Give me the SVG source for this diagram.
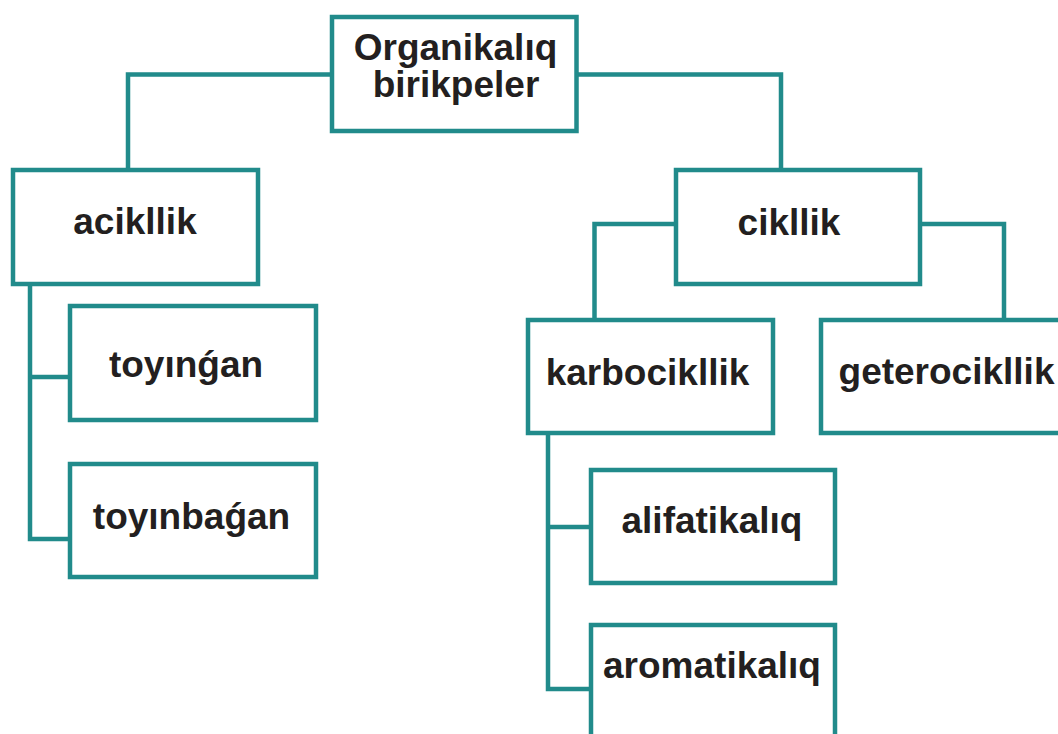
<svg xmlns="http://www.w3.org/2000/svg" width="1058" height="734" viewBox="0 0 1058 734">
  <style>
    .box { fill: #ffffff; stroke: #218b8b; stroke-width: 4.5; }
    .wire { fill: none; stroke: #218b8b; stroke-width: 4.5; stroke-linejoin: miter; }
    .lbl { font-family: "Liberation Sans", Arial, sans-serif; font-weight: bold; font-size: 37px; fill: #231f20; text-anchor: middle; }
  </style>
  <rect width="1058" height="734" fill="#ffffff"/>

  <!-- connectors -->
  <g id="connectors">
    <path class="wire" d="M332,74.5 H128 V170"/>
    <path class="wire" d="M576.5,74.5 H781 V170"/>
    <path class="wire" d="M30,284 V539 H70"/>
    <path class="wire" d="M30,377 H70"/>
    <path class="wire" d="M676,224 H594.5 V320"/>
    <path class="wire" d="M920,224 H1004 V320"/>
    <path class="wire" d="M548,433 V689 H591"/>
    <path class="wire" d="M548,527 H591"/>
  </g>

  <!-- nodes -->
  <g id="root">
    <rect class="box" x="332" y="17" width="244.5" height="114"/>
    <text class="lbl" x="455.5" y="60">Organikalıq</text>
    <text class="lbl" x="456" y="97">birikpeler</text>
  </g>
  <g id="acyclic">
    <rect class="box" x="13" y="170" width="245" height="114"/>
    <text class="lbl" x="135" y="234">acikllik</text>
  </g>
  <g id="saturated">
    <rect class="box" x="70" y="306" width="246" height="114"/>
    <text class="lbl" x="186" y="377">toyınǵan</text>
  </g>
  <g id="unsaturated">
    <rect class="box" x="70" y="464" width="246" height="113"/>
    <text class="lbl" x="191.5" y="529">toyınbaǵan</text>
  </g>
  <g id="cyclic">
    <rect class="box" x="676" y="170" width="244" height="114"/>
    <text class="lbl" x="789" y="235">cikllik</text>
  </g>
  <g id="carbocyclic">
    <rect class="box" x="528" y="320" width="245" height="113"/>
    <text class="lbl" x="647.5" y="385">karbocikllik</text>
  </g>
  <g id="heterocyclic">
    <rect class="box" x="821" y="320" width="260" height="113"/>
    <text class="lbl" x="946.5" y="384">geterocikllik</text>
  </g>
  <g id="aliphatic">
    <rect class="box" x="591" y="470" width="244" height="113"/>
    <text class="lbl" x="712" y="533">alifatikalıq</text>
  </g>
  <g id="aromatic">
    <rect class="box" x="591" y="625" width="244" height="130"/>
    <text class="lbl" x="712" y="678">aromatikalıq</text>
  </g>
</svg>
